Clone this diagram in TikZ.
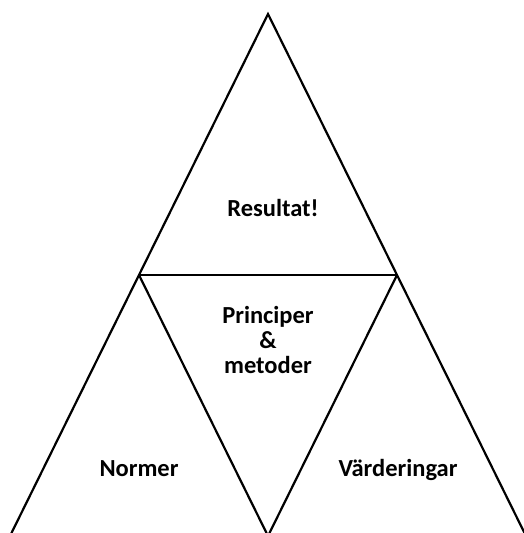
\documentclass[tikz,border=0pt]{standalone}
\usepackage{fontspec}
\setmainfont{Carlito}
\begin{document}
\begin{tikzpicture}[x=1pt,y=-1pt,
  edge/.style={line width=2.2pt,line join=miter},
  lbl/.style={font=\fontsize{24.5}{25}\selectfont\bfseries,align=center,inner sep=0pt}]
\useasboundingbox (0,0) rectangle (524,533);
\coordinate (T) at (268,14);
\coordinate (L) at (139,275);
\coordinate (R) at (397,275);
\coordinate (BL) at (10,536);
\coordinate (BM) at (268,536);
\coordinate (BR) at (526,536);
\draw[edge] (BL) -- (T) -- (BR);
\draw[edge] (L) -- (R);
\draw[edge] (L) -- (BM) -- (R);
\node[lbl,anchor=base] (res) at (273,216) {Resultat!};
\node[lbl] (pm) at (268,340) {Principer\\\&\\metoder};
\node[lbl,anchor=base] (nor) at (139,476) {Normer};
\node[lbl,anchor=base] (var) at (398,476) {Värderingar};
\end{tikzpicture}
\end{document}
